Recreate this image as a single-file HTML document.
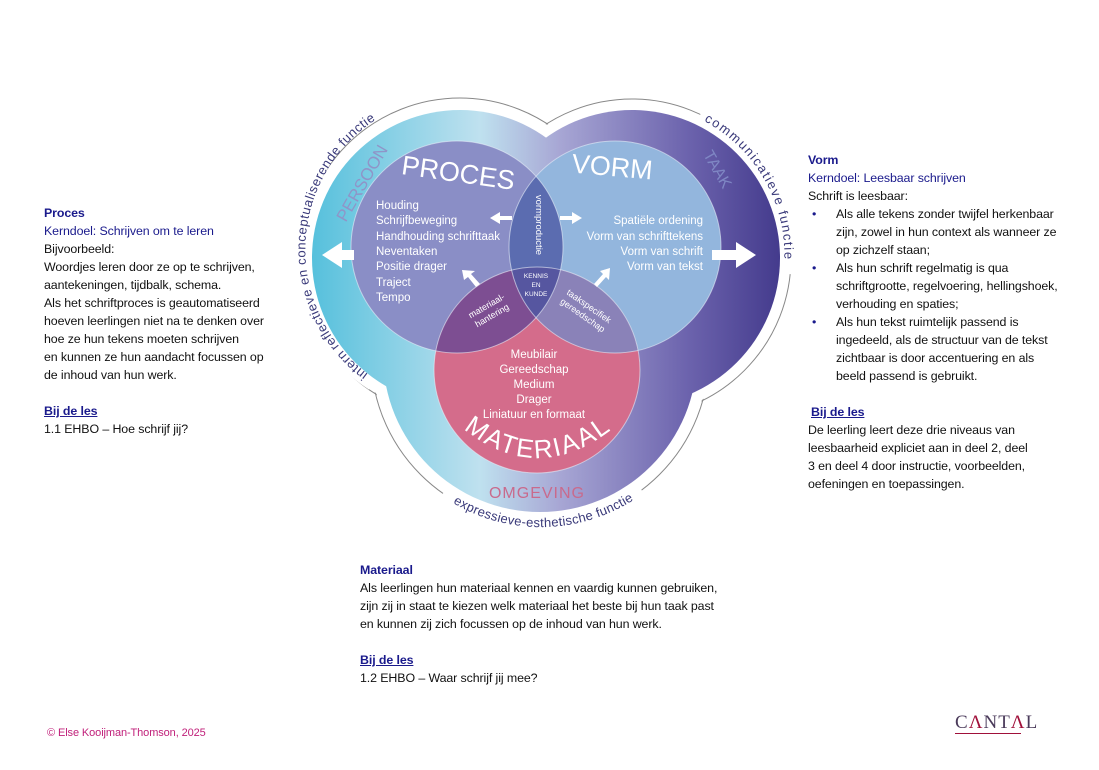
<!DOCTYPE html>
<html><head><meta charset="utf-8">
<style>
body{margin:0;width:1099px;height:770px;background:#fff;position:relative;overflow:hidden;font-family:"Liberation Sans",sans-serif;}
.t{position:absolute;font-size:12.4px;line-height:18px;color:#111;white-space:nowrap;letter-spacing:-0.1px}
.h{color:#1a1a8c;font-weight:bold}
.k{color:#1a1a8c}
.u{color:#1a1a8c;font-weight:bold;text-decoration:underline}
ul{margin:0;padding:0;list-style:none}
li{position:relative;padding-left:28px}
li:before{content:"•";position:absolute;left:4px;color:#1a1a8c}
</style></head><body>
<div class="t" style="left:44px;top:204px">
<div class="h">Proces</div>
<div class="k">Kerndoel: Schrijven om te leren</div>
<div>Bijvoorbeeld:</div>
<div>Woordjes leren door ze op te schrijven,</div>
<div>aantekeningen, tijdbalk, schema.</div>
<div>Als het schriftproces is geautomatiseerd</div>
<div>hoeven leerlingen niet na te denken over</div>
<div>hoe ze hun tekens moeten schrijven</div>
<div>en kunnen ze hun aandacht focussen op</div>
<div>de inhoud van hun werk.</div>
<div>&nbsp;</div>
<div class="u">Bij de les</div>
<div>1.1 EHBO – Hoe schrijf jij?</div>
</div>

<div class="t" style="left:808px;top:151px">
<div class="h">Vorm</div>
<div class="k">Kerndoel: Leesbaar schrijven</div>
<div>Schrift is leesbaar:</div>
<ul>
<li>Als alle tekens zonder twijfel herkenbaar<br>zijn, zowel in hun context als wanneer ze<br>op zichzelf staan;</li>
<li>Als hun schrift regelmatig is qua<br>schriftgrootte, regelvoering, hellingshoek,<br>verhouding en spaties;</li>
<li>Als hun tekst ruimtelijk passend is<br>ingedeeld, als de structuur van de tekst<br>zichtbaar is door accentuering en als<br>beeld passend is gebruikt.</li>
</ul>
<div>&nbsp;</div>
<div class="u" style="margin-left:3px">Bij de les</div>
<div>De leerling leert deze drie niveaus van</div>
<div>leesbaarheid expliciet aan in deel 2, deel</div>
<div>3 en deel 4 door instructie, voorbeelden,</div>
<div>oefeningen en toepassingen.</div>
</div>

<div class="t" style="left:360px;top:561px">
<div class="h">Materiaal</div>
<div>Als leerlingen hun materiaal kennen en vaardig kunnen gebruiken,</div>
<div>zijn zij in staat te kiezen welk materiaal het beste bij hun taak past</div>
<div>en kunnen zij zich focussen op de inhoud van hun werk.</div>
<div>&nbsp;</div>
<div class="u">Bij de les</div>
<div>1.2 EHBO – Waar schrijf jij mee?</div>
</div>

<div class="t" style="left:47px;top:724px;color:#c0207a;font-size:11px">© Else Kooijman-Thomson, 2025</div>
<div style="position:absolute;left:955px;top:712px;font-family:'Liberation Serif',serif;font-size:19px;color:#4a3a5a;letter-spacing:1px">C<span style="color:#a0103a">Λ</span>NT<span style="color:#a0103a">Λ</span>L</div>
<div style="position:absolute;left:955px;top:733px;width:66px;height:1px;background:#a0103a"></div>

<svg width="1099" height="770" style="position:absolute;left:0;top:0" font-family="Liberation Sans, sans-serif">
<defs>
<linearGradient id="g" x1="310" x2="782" y1="0" y2="0" gradientUnits="userSpaceOnUse">
<stop offset="0" stop-color="#55c0dc"/>
<stop offset="0.36" stop-color="#bfe1ef"/>
<stop offset="0.53" stop-color="#a7a6d4"/>
<stop offset="0.8" stop-color="#6c63ad"/>
<stop offset="1" stop-color="#433a8c"/>
</linearGradient>
<clipPath id="cp"><circle cx="457" cy="247" r="106"/></clipPath>
<clipPath id="cv"><circle cx="615" cy="247" r="106"/></clipPath>
<path id="pl" d="M 368 374 A 155 155 0 0 1 380 117"/>
<path id="pr" d="M 704 121 A 152 152 0 0 1 784 266"/>
<path id="pb" d="M 453 503 A 172 172 0 0 0 635 499"/>
<path id="pm" d="M 460 426 Q 537 490 616 426"/>
</defs>
<g fill="none" stroke="#888" stroke-width="1">
<circle cx="460" cy="258" r="160"/><circle cx="632" cy="258" r="159"/><circle cx="540" cy="355" r="169"/>
</g>
<g fill="#fff">
<circle cx="460" cy="258" r="159"/><circle cx="632" cy="258" r="158"/><circle cx="540" cy="355" r="168"/>
</g>
<g fill="none" stroke="#fff" stroke-width="11">
<path d="M 372 385 A 161 161 0 0 1 384 108"/>
<path d="M 701 113 A 158 158 0 0 1 789 274"/>
<path d="M 444 492 A 167 167 0 0 0 640 488"/>
</g>
<g fill="url(#g)">
<circle cx="460" cy="258" r="148"/><circle cx="632" cy="258" r="148"/><circle cx="540" cy="355" r="157"/>
</g>
<circle cx="457" cy="247" r="106" fill="#8a8ec6"/>
<circle cx="615" cy="247" r="106" fill="#93b6dd"/>
<circle cx="537" cy="370" r="103" fill="#d46c8b"/>
<g clip-path="url(#cp)"><circle cx="615" cy="247" r="106" fill="#5b6cb0"/><circle cx="537" cy="370" r="103" fill="#7d4e92"/></g>
<g clip-path="url(#cv)"><circle cx="537" cy="370" r="103" fill="#8a82b8"/></g>
<g clip-path="url(#cp)"><g clip-path="url(#cv)"><circle cx="537" cy="370" r="103" fill="#5656a0"/></g></g>
<g fill="none" stroke="#e8eef8" stroke-opacity="0.6" stroke-width="1">
<circle cx="457" cy="247" r="106"/><circle cx="615" cy="247" r="106"/><circle cx="537" cy="370" r="103"/>
</g>
<g fill="#fff">
<text x="458" y="182" font-size="27" text-anchor="middle" transform="rotate(8 458 175)">PROCES</text>
<text x="612" y="176" font-size="27" text-anchor="middle" transform="rotate(5 612 170)">VORM</text>
<text font-size="26"><textPath href="#pm" startOffset="50%" text-anchor="middle" letter-spacing="2">MATERIAAL</textPath></text>
<g font-size="11.5">
<text x="376" y="209">Houding</text>
<text x="376" y="224">Schrijfbeweging</text>
<text x="376" y="240">Handhouding schrifttaak</text>
<text x="376" y="255">Neventaken</text>
<text x="376" y="270">Positie drager</text>
<text x="376" y="286">Traject</text>
<text x="376" y="301">Tempo</text>
<g text-anchor="end">
<text x="703" y="224">Spatiële ordening</text>
<text x="703" y="240">Vorm van schrifttekens</text>
<text x="703" y="255">Vorm van schrift</text>
<text x="703" y="270">Vorm van tekst</text>
</g>
<g text-anchor="middle">
<text x="534" y="358">Meubilair</text>
<text x="534" y="373">Gereedschap</text>
<text x="534" y="388">Medium</text>
<text x="534" y="403">Drager</text>
<text x="534" y="418">Liniatuur en formaat</text>
</g>
</g>
<text x="536" y="225" font-size="9.5" text-anchor="middle" transform="rotate(90 536 225)">vormproductie</text>
<g font-size="6.5" text-anchor="middle"><text x="536" y="278">KENNIS</text><text x="536" y="287">EN</text><text x="536" y="296">KUNDE</text></g>
<g font-size="9" text-anchor="middle" transform="rotate(-30 490 312)"><text x="490" y="308">materiaal-</text><text x="490" y="319">hantering</text></g>
<g font-size="9" text-anchor="middle" transform="rotate(35 585 312)"><text x="585" y="308">taakspecifiek</text><text x="585" y="319">gereedschap</text></g>
<path d="M 342 242 L 322 255 L 342 268 L 342 260 L 354 260 L 354 250 L 342 250 Z"/>
<path d="M 736 242 L 756 255 L 736 268 L 736 260 L 712 260 L 712 250 L 736 250 Z"/>
<path d="M 490 218 L 500 212 L 500 216 L 512 216 L 512 220 L 500 220 L 500 224 Z"/>
<path d="M 582 218 L 572 212 L 572 216 L 560 216 L 560 220 L 572 220 L 572 224 Z"/>
<path d="M 462 270 L 475 271 L 471 274 L 480 284 L 476 287 L 468 277 L 464 280 Z"/>
<path d="M 610 268 L 609 280 L 606 277 L 597 287 L 594 284 L 603 274 L 600 271 Z"/>
</g>
<text x="367" y="186" font-size="17" fill="#8f95c8" transform="rotate(-60 367 186)" text-anchor="middle">PERSOON</text>
<text x="713" y="172" font-size="16" fill="#7f87c4" transform="rotate(60 713 172)" text-anchor="middle">TAAK</text>
<text x="537" y="498" font-size="16" fill="#c96a8c" text-anchor="middle" letter-spacing="1">OMGEVING</text>
<g font-size="13" fill="#3a3a7a">
<text><textPath href="#pl" textLength="298" lengthAdjust="spacing">intern reflectieve en conceptualiserende functie</textPath></text>
<text><textPath href="#pr" textLength="168" lengthAdjust="spacing">communicatieve functie</textPath></text>
<text><textPath href="#pb" textLength="190" lengthAdjust="spacing">expressieve-esthetische functie</textPath></text>
</g>
</svg>
</body></html>
